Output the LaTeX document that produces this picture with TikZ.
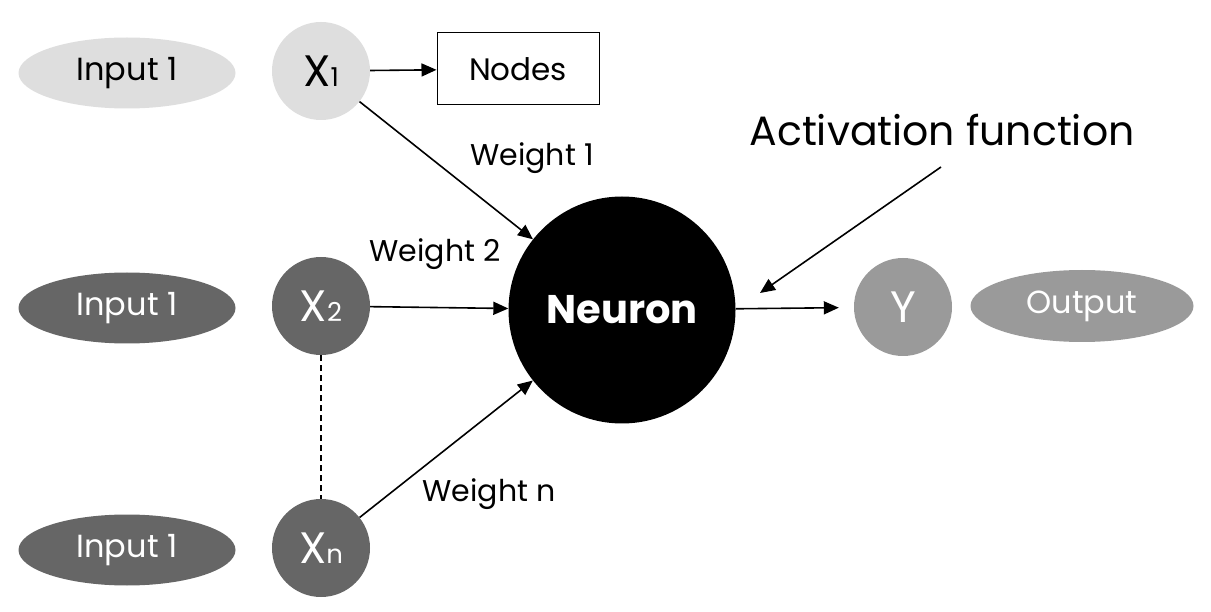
\documentclass[tikz,border=0pt]{standalone}
\usepackage{fontspec}
\setmainfont{Poppins}
\usetikzlibrary{arrows.meta,shapes.geometric}

\definecolor{lightin}{HTML}{DEDEDE}
\definecolor{darkin}{HTML}{666666}
\definecolor{outgray}{HTML}{9A9A9A}

\tikzset{
  inputell/.style={ellipse, minimum width=217pt, minimum height=71pt, inner sep=0pt, font=\fontsize{32}{36}\selectfont},
  xcirc/.style={circle, minimum size=98pt, inner sep=0pt, font=\fontsize{44}{48}\selectfont},
  lbl/.style={font=\fontsize{30}{34}\selectfont},
  conn/.style={-{Triangle[length=15pt,width=13pt]}, line width=1.6pt}
}

\newcommand{\sub}[1]{{\fontsize{26}{28}\selectfont #1}}

\begin{document}
\begin{tikzpicture}[x=1pt, y=-1pt]
  \useasboundingbox (0,0) rectangle (1211,612);

  % inputs
  \node[inputell, fill=lightin] (in1) at (127,73) {Input 1};
  \node[inputell, fill=darkin, text=white] (in2) at (127,308) {Input 1};
  \node[inputell, fill=darkin, text=white] (inn) at (127,550) {Input 1};

  \node[xcirc, fill=lightin] (x1) at (321,71) {X\sub{1}};
  \node[xcirc, fill=darkin, text=white] (x2) at (321,306) {X\sub{2}};
  \node[xcirc, fill=darkin, text=white] (xn) at (321,548) {X\sub{n}};

  \node[draw, line width=1pt, minimum width=162pt, minimum height=72pt, font=\fontsize{31}{34}\selectfont] (nodes) at (518,69) {Nodes};

  % neuron and output
  \node[circle, fill=black, minimum size=227pt, inner sep=0pt, text=white, font=\fontsize{40}{44}\selectfont\bfseries] (neuron) at (622,310) {Neuron};
  \node[xcirc, fill=outgray, text=white] (y) at (903,307) {Y};
  \node[ellipse, fill=outgray, text=white, minimum width=223pt, minimum height=72pt, inner sep=0pt, font=\fontsize{32}{36}\selectfont] (out) at (1082,306) {Output};

  \node[font=\fontsize{41}{46}\selectfont] (act) at (942,130) {Activation function};
  \coordinate (actfrom) at (941,167);
  \coordinate (acttip) at (760,293);

  % weights
  \node[lbl] (w1) at (532,158) {Weight 1};
  \node[lbl] (w2) at (435,254) {Weight 2};
  \node[lbl] (wn) at (489,494) {Weight n};

  \path[conn]
  (x1) edge (nodes)
  (x1) edge (neuron)
  (x2) edge (neuron)
  (xn) edge (neuron)
  (neuron) edge [shorten >=15pt] (y)
  (actfrom) edge (acttip)
  ;
  \draw[dash pattern=on 6pt off 4pt, line width=1.2pt] (x2) -- (xn);
\end{tikzpicture}
\end{document}
